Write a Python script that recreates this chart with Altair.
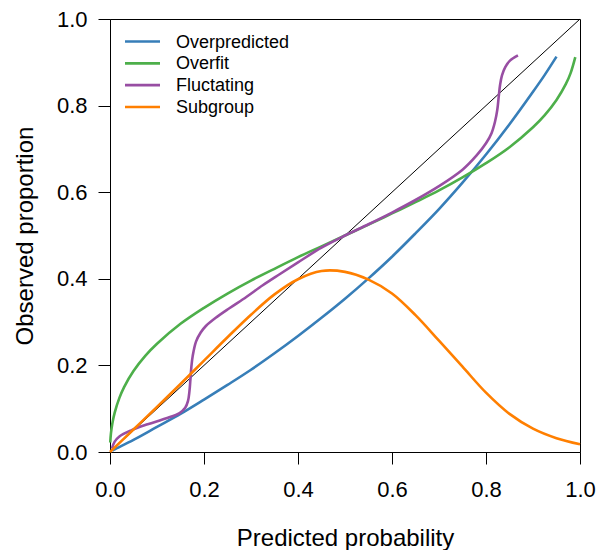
import altair as alt
import pandas as pd

# ---------------- data ----------------
series_names = ["Overpredicted", "Overfit", "Fluctating", "Subgroup"]
series_colors = ["#377EB8", "#4DAF4A", "#984EA3", "#FF7F00"]

diag_x = [0.0, 1.0]
diag_y = [0.0, 1.0]

over_x = [0.005, 0.01, 0.05, 0.1, 0.15, 0.2, 0.25, 0.3, 0.35, 0.4, 0.45, 0.5,
          0.55, 0.6, 0.65, 0.7, 0.75, 0.8, 0.85, 0.9, 0.925, 0.95]
over_y = [0.003, 0.006, 0.028, 0.058, 0.088, 0.121, 0.155, 0.19, 0.228, 0.268,
          0.31, 0.354, 0.401, 0.451, 0.505, 0.561, 0.622, 0.687, 0.757, 0.832,
          0.871, 0.913]

fit_x = [0.0005, 0.002, 0.005, 0.01, 0.02, 0.03, 0.05, 0.075, 0.1, 0.15, 0.2,
         0.25, 0.3, 0.35, 0.4, 0.45, 0.5, 0.55, 0.6, 0.65, 0.7, 0.75, 0.8,
         0.85, 0.9, 0.925, 0.95, 0.97, 0.98, 0.99]
fit_y = [0.022, 0.043, 0.066, 0.091, 0.125, 0.15, 0.187, 0.222, 0.25, 0.296,
         0.333, 0.366, 0.396, 0.423, 0.45, 0.475, 0.5, 0.525, 0.551, 0.577,
         0.604, 0.634, 0.667, 0.704, 0.75, 0.778, 0.813, 0.85, 0.875, 0.912]

fluc_x = [0.004, 0.01, 0.02, 0.045, 0.08, 0.12, 0.148, 0.16, 0.166, 0.169,
          0.171, 0.173, 0.176, 0.183, 0.193, 0.204, 0.225, 0.254, 0.29, 0.325,
          0.36, 0.4, 0.45, 0.5, 0.55, 0.6, 0.65, 0.7, 0.75, 0.78, 0.8,
          0.812, 0.819, 0.824, 0.827, 0.83, 0.834, 0.841, 0.851, 0.868]
fluc_y = [0.008, 0.024, 0.036, 0.05, 0.064, 0.078, 0.09, 0.102, 0.118, 0.14,
          0.166, 0.195, 0.222, 0.255, 0.276, 0.291, 0.31, 0.332, 0.358, 0.385,
          0.41, 0.438, 0.472, 0.5, 0.526, 0.553, 0.582, 0.614, 0.652, 0.685,
          0.713, 0.737, 0.762, 0.79, 0.82, 0.848, 0.87, 0.889, 0.904, 0.916]

sub_x = [0.0, 0.05, 0.1, 0.15, 0.2, 0.25, 0.3, 0.35, 0.4, 0.45, 0.5, 0.55,
         0.6, 0.65, 0.7, 0.75, 0.8, 0.85, 0.9, 0.95, 1.0]
sub_y = [0.0, 0.052, 0.104, 0.157, 0.211, 0.265, 0.317, 0.364, 0.399, 0.418,
         0.416, 0.398, 0.366, 0.316, 0.257, 0.197, 0.137, 0.088, 0.054, 0.032,
         0.018]

tick_values = [0.0, 0.2, 0.4, 0.6, 0.8, 1.0]

# ---------------- chart ----------------
W, H = 470, 433
FONT = "Liberation Sans"

xscale = alt.Scale(domain=[0, 1], nice=False, zero=False)
yscale = alt.Scale(domain=[0, 1], nice=False, zero=False)

common_axis = dict(
    values=tick_values, format=".1f", grid=False,
    domain=True, domainColor="black", domainWidth=1,
    ticks=True, tickColor="black", tickWidth=1, tickSize=12,
    labelFont=FONT, labelFontSize=22, labelColor="black",
    labelFlush=False, labelOverlap=False, labelBound=False,
    titleFont=FONT, titleFontSize=24, titleFontWeight="normal",
    titleColor="black", titleBaseline="alphabetic",
)
x_axis = alt.Axis(title="Predicted probability", labelPadding=15,
                  titleX=W / 2, titleY=93, **common_axis)
y_axis = alt.Axis(title="Observed proportion", labelPadding=11, labelAngle=0,
                  titleAngle=270, titleX=-78, titleY=H / 2, **common_axis)


def df_of(xs, ys):
    return pd.DataFrame({"x": xs, "y": ys, "i": list(range(len(xs)))})


diag = alt.Chart(df_of(diag_x, diag_y)).mark_line(
    color="black", strokeWidth=1
).encode(
    x=alt.X("x:Q", scale=xscale, axis=x_axis),
    y=alt.Y("y:Q", scale=yscale, axis=y_axis),
    order="i:Q",
)

line_layers = []
for (xs, ys), col in zip(
    [(over_x, over_y), (fit_x, fit_y), (fluc_x, fluc_y), (sub_x, sub_y)],
    series_colors,
):
    line_layers.append(
        alt.Chart(df_of(xs, ys)).mark_line(
            color=col, strokeWidth=2.6, interpolate="catmull-rom"
        ).encode(
            x=alt.X("x:Q", scale=xscale),
            y=alt.Y("y:Q", scale=yscale),
            order="i:Q",
        )
    )

main = alt.layer(diag, *line_layers)

legend_df = pd.DataFrame({
    "name": series_names,
    "color": series_colors,
    "row": list(range(len(series_names))),
})
row_scale = alt.Scale(domain=[0, len(series_names) - 1], range=[22.5, 88],
                      nice=False, zero=False)
color_scale = alt.Scale(domain=series_names, range=series_colors)

legend_lines = alt.Chart(legend_df).mark_rule(strokeWidth=2.6).encode(
    x=alt.value(15), x2=alt.value(50),
    y=alt.Y("row:Q", scale=row_scale, axis=None),
    color=alt.Color("name:N", scale=color_scale, legend=None),
)
legend_text = alt.Chart(legend_df).mark_text(
    align="left", baseline="middle", font=FONT, fontSize=18, color="black", dy=1
).encode(
    x=alt.value(66),
    y=alt.Y("row:Q", scale=row_scale, axis=None),
    text="name:N",
)
legend = alt.layer(legend_lines, legend_text)

chart = alt.layer(main, legend).resolve_scale(y="independent").properties(
    width=W, height=H,
    autosize=alt.AutoSizeParams(type="none"),
    padding={"left": 110, "top": 19, "right": 17, "bottom": 98},
    background="white",
).configure_view(stroke="black", strokeWidth=1)

chart.save("out.html", embed_options={"renderer": "svg", "actions": False})
